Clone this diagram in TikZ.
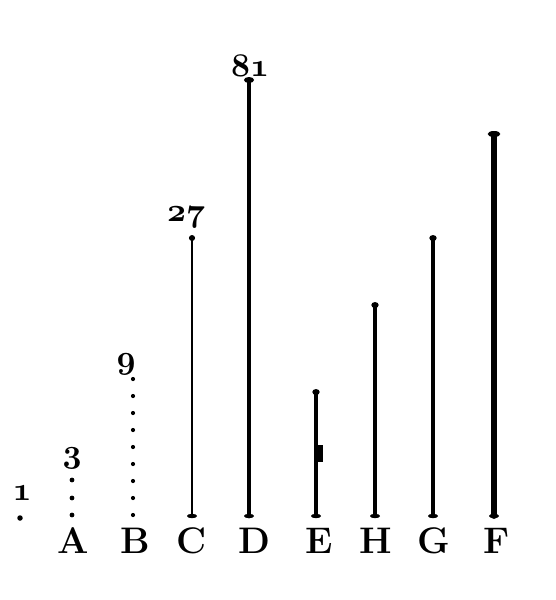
\documentclass[tikz,border=0pt]{standalone}
\usetikzlibrary{positioning}
\newcommand{\osnum}[1]{\scalebox{3.3}{\fontencoding{OML}\fontfamily{cmm}\fontseries{b}\fontshape{it}\fontsize{10}{10}\selectfont #1}}
\tikzset{
  letter/.style={font=\bfseries\fontsize{37}{37}\selectfont,inner sep=0pt},
  num/.style={inner sep=0pt},
  rod/.style={line width=#1,line cap=round},
  dot/.style={circle,fill=black,inner sep=0pt,minimum size=#1},
  dot/.default=4pt,
}
\begin{document}
\begin{tikzpicture}[x=1pt,y=-1pt]
\useasboundingbox (0,0) rectangle (556,600);
% letters under the rods
\foreach \n/\x in {A/73,B/135,C/192,D/254,E/319,H/376,G/434,F/497}
  \node[letter] (l\n) at (\x,541) {\n};
% unit point
\node[dot=5.5pt] (p1) at (20,518) {};
\node[num] (n1) at (22,493) {\osnum{1}};
% dotted rows
\foreach \y in {480,498,515}
  \node[dot=4.8pt] at (72,\y) {};
\foreach \k in {0,...,8}
  \node[dot=4.2pt] at (133,379+17*\k) {};
\node[num] (n3) at (72,458) {\osnum{3}};
\node[num] (n9) at (126,364) {\osnum{9}};
% rods
\foreach \n/\x/\t/\w in {C/192/238/2.8,D/249/80/4.6,E/316/392/3.4,H/375/305/3.4,G/433/238/3.4,F/494/134/5.8}{
  \coordinate (\n-top) at (\x,\t);
  \coordinate (\n-bot) at (\x,516);
  \draw[rod=\w pt] (\n-top) -- (\n-bot);
  \fill (\n-top) ellipse (1.1*\w pt and 3pt);
  \fill (\n-bot) ellipse (5pt and 2.2pt);
}
\fill (316,445) rectangle (323,462);
\node[num] (n27) at (186,217) {\osnum{27}};
\node[num] (n81) at (250,66) {\osnum{81}};
\end{tikzpicture}
\end{document}
